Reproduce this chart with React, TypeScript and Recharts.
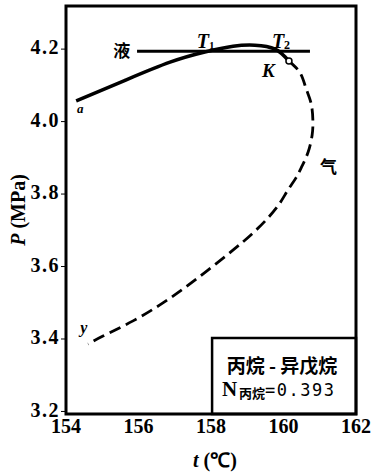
import React from 'react';
import { LineChart, Line, XAxis, YAxis, ReferenceArea, ReferenceDot } from 'recharts';

const xTicks = [154, 156, 158, 160, 162];
const yTicks = [3.2, 3.4, 3.6, 3.8, 4.0, 4.2];

// bubble point curve (solid), a -> K
const bubbleT = [154.28, 155.63, 156.87, 157.83, 158.61, 159.21, 159.77, 160.15];
const bubbleP = [4.057, 4.114, 4.164, 4.192, 4.208, 4.211, 4.2, 4.167];

// dew point curve (dashed), K -> y
const dewT = [160.15, 160.46, 160.62, 160.76, 160.81, 160.79, 160.68, 160.51, 160.34, 160.12, 159.9, 159.57, 159.13, 158.58, 157.89, 157.23, 156.59, 155.85, 155.02, 154.61];
const dewP = [4.167, 4.134, 4.092, 4.051, 4.004, 3.963, 3.916, 3.877, 3.844, 3.811, 3.775, 3.734, 3.69, 3.643, 3.588, 3.538, 3.494, 3.45, 3.408, 3.386];

// liquid line
const liquidT = [155.96, 160.73];
const liquidP = [4.194, 4.194];

const zip = (ts: number[], ps: number[]) => ts.map((t, i) => ({ t, p: ps[i] }));
const bubble = zip(bubbleT, bubbleP);
const dew = zip(dewT, dewP);
const liquid = zip(liquidT, liquidP);

const SERIF = '"Liberation Serif", serif';
const CJK = '"Noto Sans CJK SC", sans-serif';

const note = (content: React.ReactNode, anchor: 'start' | 'middle' | 'end' = 'start') => (props: any) => {
  const { x, y } = props.viewBox;
  return (
    <text x={x} y={y} textAnchor={anchor} fill="#000">
      {content}
    </text>
  );
};

const yLabel = (props: any) => {
  const { x, y, height } = props.viewBox;
  const cx = x + 18;
  const cy = y + height / 2;
  return (
    <text x={cx} y={cy} transform={`rotate(-90 ${cx} ${cy})`} textAnchor="middle" dominantBaseline="central"
      style={{ fontFamily: SERIF, fontWeight: 700, fontSize: 20 }} fill="#000">
      <tspan fontStyle="italic">P</tspan> (MPa)
    </text>
  );
};

const xLabel = (props: any) => {
  const { x, y, width } = props.viewBox;
  return (
    <text x={x + width / 2 + 4} y={y + 53} textAnchor="middle"
      style={{ fontFamily: SERIF, fontWeight: 700, fontSize: 20 }} fill="#000">
      <tspan fontStyle="italic">t</tspan> (℃)
    </text>
  );
};

const tickStyle = { fontFamily: SERIF, fontWeight: 700, fontSize: 20 };

export default function App() {
  return (
    <div style={{ position: 'absolute', left: 0, top: 0, width: 377, height: 472, background: '#fff', fontFamily: SERIF }}>
      <LineChart width={377} height={472} margin={{ top: 6, right: 21, bottom: 0, left: 0 }}>
        <XAxis
          type="number"
          dataKey="t"
          domain={[154, 162]}
          ticks={xTicks}
          allowDataOverflow
          height={58}
          axisLine={false}
          tickLine={false}
          tickSize={0}
          tickMargin={5}
          tick={{ ...tickStyle, fill: '#000', style: tickStyle }}
          label={xLabel}
        />
        <YAxis
          type="number"
          dataKey="p"
          domain={[3.193, 4.319]}
          ticks={yTicks}
          allowDataOverflow
          width={66}
          axisLine={false}
          tickSize={5}
          tickMargin={1}
          stroke="#000"
          tickFormatter={(v: number) => v.toFixed(1)}
          tick={{ ...tickStyle, fill: '#000', dy: -2, letterSpacing: 1.5, style: tickStyle }}
          label={yLabel}
        />
        <Line data={liquid} dataKey="p" type="linear" stroke="#000" strokeWidth={3} dot={false} isAnimationActive={false} />
        <Line data={bubble} dataKey="p" type="natural" stroke="#000" strokeWidth={3.5} dot={false} isAnimationActive={false} />
        <Line data={dew} dataKey="p" type="natural" stroke="#000" strokeWidth={2.8} strokeDasharray="12 6" dot={false} isAnimationActive={false} />
        <ReferenceDot x={160.15} y={4.167} r={3} fill="#fff" stroke="#000" strokeWidth={1.5} />

        <ReferenceDot x={155.54} y={4.178} r={0} stroke="none" fill="none"
          label={note(<tspan style={{ fontFamily: CJK, fontWeight: 700, fontSize: 17 }}>液</tspan>, 'middle')} />
        <ReferenceDot x={157.61} y={4.203} r={0} stroke="none" fill="none"
          label={note(<>
            <tspan style={{ fontFamily: SERIF, fontStyle: 'italic', fontWeight: 700, fontSize: 20 }}>T</tspan>
            <tspan dy={1} style={{ fontFamily: SERIF, fontWeight: 700, fontSize: 11 }}>1</tspan>
          </>)} />
        <ReferenceDot x={159.68} y={4.203} r={0} stroke="none" fill="none"
          label={note(<>
            <tspan style={{ fontFamily: SERIF, fontStyle: 'italic', fontWeight: 700, fontSize: 20 }}>T</tspan>
            <tspan dy={1} style={{ fontFamily: SERIF, fontWeight: 700, fontSize: 12 }}>2</tspan>
          </>)} />
        <ReferenceDot x={159.41} y={4.123} r={0} stroke="none" fill="none"
          label={note(<tspan style={{ fontFamily: SERIF, fontStyle: 'italic', fontWeight: 700, fontSize: 19 }}>K</tspan>)} />
        <ReferenceDot x={154.3} y={4.023} r={0} stroke="none" fill="none"
          label={note(<tspan style={{ fontFamily: SERIF, fontStyle: 'italic', fontWeight: 700, fontSize: 13 }}>a</tspan>)} />
        <ReferenceDot x={154.39} y={3.417} r={0} stroke="none" fill="none"
          label={note(<tspan style={{ fontFamily: SERIF, fontStyle: 'italic', fontWeight: 700, fontSize: 16 }}>y</tspan>)} />
        <ReferenceDot x={161.01} y={3.857} r={0} stroke="none" fill="none"
          label={note(<tspan style={{ fontFamily: CJK, fontWeight: 700, fontSize: 17 }}>气</tspan>)} />

        <ReferenceArea x1={158.03} x2={162} y1={3.193} y2={3.403} fill="#fff" fillOpacity={1} stroke="#000" strokeWidth={2.5} ifOverflow="visible" />
        <ReferenceDot x={159.96} y={3.306} r={0} stroke="none" fill="none"
          label={note(<tspan style={{ fontFamily: CJK, fontWeight: 700, fontSize: 19 }}>丙烷 - 异戊烷</tspan>, 'middle')} />
        <ReferenceDot x={158.3} y={3.243} r={0} stroke="none" fill="none"
          label={note(<>
            <tspan style={{ fontFamily: SERIF, fontWeight: 700, fontSize: 21 }}>N</tspan>
            <tspan dx={2} dy={2} style={{ fontFamily: CJK, fontWeight: 700, fontSize: 13 }}>丙烷</tspan>
            <tspan dy={-2} style={{ fontFamily: '"DejaVu Sans Mono", monospace', fontSize: 17, letterSpacing: 1.5 }}>=0.393</tspan>
          </>)} />

        <ReferenceArea x1={154} x2={162} y1={3.193} y2={4.319} fill="none" stroke="#000" strokeWidth={3} ifOverflow="visible" />
      </LineChart>
    </div>
  );
}
